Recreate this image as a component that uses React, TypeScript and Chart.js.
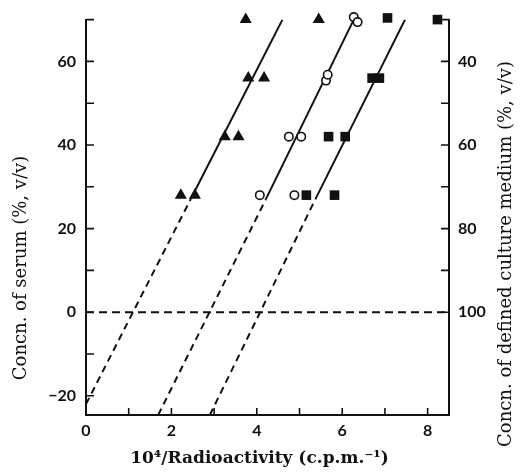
import React, { useEffect, useRef } from 'react';
import { Chart, registerables } from 'chart.js';

Chart.register(...registerables);

// ---- data ----
const TRIANGLE_X = [2.22, 2.55, 3.25, 3.57, 3.8, 4.17, 3.74, 5.45];
const TRIANGLE_Y = [28, 28, 42, 42, 56, 56, 70, 70];
const CIRCLE_X = [4.07, 4.88, 4.75, 5.04, 5.62, 5.66, 6.27, 6.36];
const CIRCLE_Y = [28, 28, 42, 42, 55.4, 56.8, 70.6, 69.4];
const SQUARE_X = [5.16, 5.82, 5.68, 6.07, 6.7, 6.87, 7.06, 8.23];
const SQUARE_Y = [28, 28, 42, 42, 56, 56, 70.4, 70];

// regression lines: [start of dashed part, start of solid part, end]
const LINE_A_X = [0, 2.45, 4.6];
const LINE_A_Y = [-22, 27, 70];
const LINE_B_X = [1.69, 4.21, 6.27];
const LINE_B_Y = [-24.6, 27, 70];
const LINE_C_X = [2.9, 5.37, 7.47];
const LINE_C_Y = [-24.6, 27, 70];
const ZERO_X = [0, 8.5];
const ZERO_Y = [0, 0];

// axes
const X_MIN = 0;
const X_MAX = 8.5;
const Y_MIN = -24.6;
const Y_MAX = 70;
const X_TICKS = [1, 2, 3, 4, 5, 6, 7, 8];
const X_LABELS = [0, 2, 4, 6, 8];
const Y_TICKS = [-20, -10, 0, 10, 20, 30, 40, 50, 60, 70];
const Y_LABELS = [-20, 0, 20, 40, 60];
const Y2_TICKS = [0, 10, 20, 30, 40, 50, 60, 70];
const Y2_LABELS = [0, 20, 40, 60];
const Y2_TOTAL = 100;

const X_TITLE = '10\u2074/Radioactivity (c.p.m.\u207B\u00B9)';
const Y_TITLE = 'Concn. of serum (%, v/v)';
const Y2_TITLE = 'Concn. of defined culture medium (%, v/v)';

const INK = '#111';
const TICK_FONT = { family: 'Lato', size: 16, weight: 'bold' as const };
const TITLE_FONT = '18px "DejaVu Serif"';
const X_TITLE_FONT = 'bold 17px "DejaVu Serif"';

const pts = (xs: number[], ys: number[]) => xs.map((x, i) => ({ x, y: ys[i] }));

const decor = {
  id: 'decor',
  afterDraw(chart: any) {
    const { ctx, chartArea: ca, scales } = chart;
    ctx.save();
    ctx.strokeStyle = INK;
    ctx.lineWidth = 1.6;
    ctx.beginPath();
    X_TICKS.forEach((v) => {
      const p = scales.x.getPixelForValue(v);
      ctx.moveTo(p, ca.bottom);
      ctx.lineTo(p, ca.bottom - 7);
    });
    Y_TICKS.forEach((v) => {
      const p = scales.y.getPixelForValue(v);
      ctx.moveTo(ca.left, p);
      ctx.lineTo(ca.left + 8, p);
    });
    Y2_TICKS.forEach((v) => {
      const p = scales.y2.getPixelForValue(v);
      ctx.moveTo(ca.right, p);
      ctx.lineTo(ca.right - 8, p);
    });
    ctx.stroke();

    ctx.fillStyle = INK;
    ctx.textAlign = 'center';
    ctx.textBaseline = 'middle';
    ctx.font = X_TITLE_FONT;
    ctx.fillText(X_TITLE, (ca.left + ca.right) / 2 - 8, chart.height - 13);

    ctx.font = TITLE_FONT;
    ctx.save();
    ctx.translate(21, ca.bottom - 147);
    ctx.rotate(-Math.PI / 2);
    ctx.fillText(Y_TITLE, 0, 0);
    ctx.restore();

    ctx.save();
    ctx.translate(chart.width - 14, ca.bottom - 161);
    ctx.rotate(-Math.PI / 2);
    ctx.fillText(Y2_TITLE, 0, 0);
    ctx.restore();
    ctx.restore();
  },
};

export default function App() {
  const ref = useRef<HTMLCanvasElement | null>(null);

  useEffect(() => {
    document.body.style.margin = '0';
    const canvas = ref.current;
    if (!canvas) return;

    const lineDs = (xs: number[], ys: number[]) => ({
      type: 'line' as const,
      data: pts(xs, ys),
      borderColor: INK,
      borderWidth: 2,
      pointRadius: 0,
      showLine: true,
      fill: false,
      tension: 0,
      segment: {
        borderDash: (c: any) => (c.p0DataIndex === 0 ? [7, 5] : []),
      },
    });

    const chart = new Chart(canvas, {
      type: 'scatter',
      data: {
        datasets: [
          {
            data: pts(TRIANGLE_X, TRIANGLE_Y),
            pointStyle: 'triangle',
            pointRadius: 7,
            backgroundColor: INK,
            borderColor: INK,
            borderWidth: 0,
            clip: false,
          },
          {
            data: pts(CIRCLE_X, CIRCLE_Y),
            pointStyle: 'circle',
            pointRadius: 4.2,
            backgroundColor: '#fff',
            borderColor: INK,
            borderWidth: 1.6,
            clip: false,
          },
          {
            data: pts(SQUARE_X, SQUARE_Y),
            pointStyle: 'rect',
            pointRadius: 6.8,
            backgroundColor: INK,
            borderColor: INK,
            borderWidth: 0,
            clip: false,
          },
          lineDs(LINE_A_X, LINE_A_Y),
          lineDs(LINE_B_X, LINE_B_Y),
          lineDs(LINE_C_X, LINE_C_Y),
          {
            type: 'line' as const,
            data: pts(ZERO_X, ZERO_Y),
            borderColor: INK,
            borderWidth: 2,
            borderDash: [8, 5],
            pointRadius: 0,
            fill: false,
          },
        ] as any,
      },
      options: {
        animation: false,
        responsive: false,
        events: [],
        layout: { padding: { top: 15, left: 0, right: 0, bottom: 0 } },
        plugins: { legend: { display: false }, tooltip: { enabled: false } },
        scales: {
          x: {
            type: 'linear',
            position: 'bottom',
            min: X_MIN,
            max: X_MAX,
            grid: { display: false, drawTicks: false },
            border: { display: true, color: INK, width: 2 },
            afterBuildTicks: (s: any) => {
              s.ticks = X_LABELS.map((v) => ({ value: v }));
            },
            afterFit: (s: any) => {
              s.height = 57;
            },
            ticks: {
              autoSkip: false,
              maxRotation: 0,
              padding: 6,
              color: INK,
              font: TICK_FONT,
              callback: (v: any) => String(v),
            },
          },
          y: {
            type: 'linear',
            position: 'left',
            min: Y_MIN,
            max: Y_MAX,
            grid: { display: false, drawTicks: false },
            border: { display: true, color: INK, width: 2 },
            afterBuildTicks: (s: any) => {
              s.ticks = Y_LABELS.map((v) => ({ value: v }));
            },
            afterFit: (s: any) => {
              s.width = 86;
            },
            ticks: {
              autoSkip: false,
              padding: 10,
              color: INK,
              font: TICK_FONT,
              callback: (v: any) => (v < 0 ? '\u2212' + String(-v) : String(v)),
            },
          },
          y2: {
            type: 'linear',
            position: 'right',
            min: Y_MIN,
            max: Y_MAX,
            grid: { display: false, drawTicks: false },
            border: { display: true, color: INK, width: 2 },
            afterBuildTicks: (s: any) => {
              s.ticks = Y2_LABELS.map((v) => ({ value: v }));
            },
            afterFit: (s: any) => {
              s.width = 71;
            },
            ticks: {
              autoSkip: false,
              padding: 9,
              color: INK,
              font: TICK_FONT,
              callback: (v: any) => String(Y2_TOTAL - v),
            },
          },
        },
      } as any,
      plugins: [decor],
    });

    return () => chart.destroy();
  }, []);

  return (
    <div style={{ width: 520, height: 472 }}>
      <canvas ref={ref} width={520} height={472} style={{ display: 'block' }} />
    </div>
  );
}
